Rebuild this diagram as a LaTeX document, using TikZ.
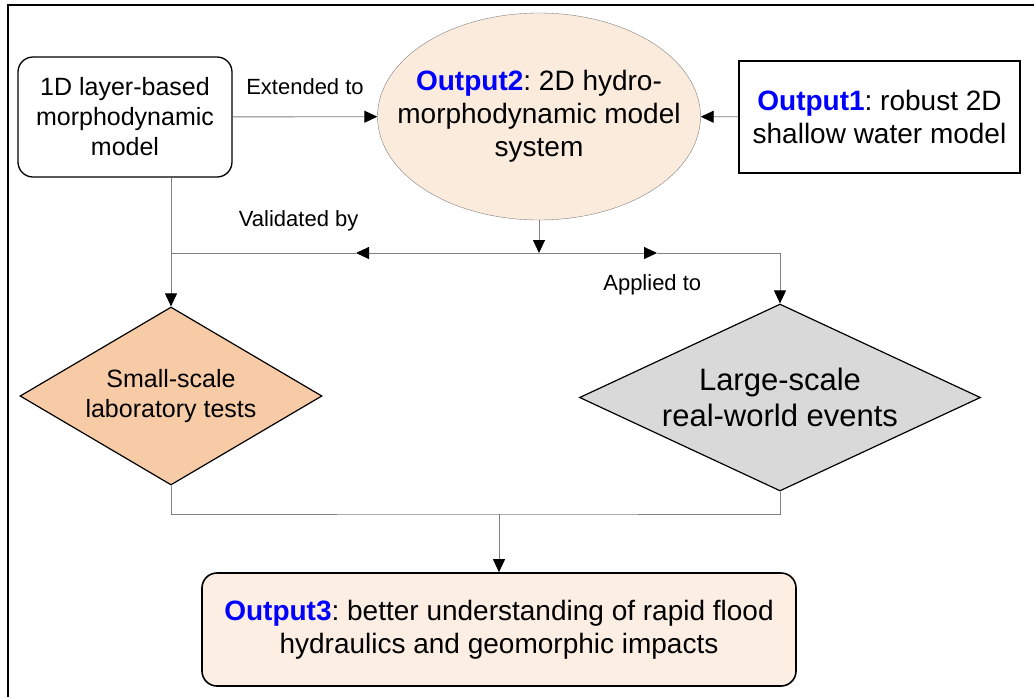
\documentclass[tikz,border=0pt]{standalone}
\usepackage{fontspec}
\setmainfont{Liberation Sans}
\usetikzlibrary{shapes.geometric,arrows.meta,positioning}
\frenchspacing

\definecolor{peach}{HTML}{FBEBDD}
\definecolor{lightpeach}{HTML}{FCEEE3}
\definecolor{orangefill}{HTML}{F8CBA7}
\definecolor{greyfill}{HTML}{D9D9D9}
\definecolor{wirecol}{HTML}{808080}
\newcommand{\outname}[1]{\textcolor{blue}{\textbf{#1}}}

\tikzset{
    modelbox/.style={draw, rounded corners=15pt, line width=1.3pt, align=center},
    plainbox/.style={draw, line width=1.5pt, align=center},
    testbox/.style={diamond, draw, line width=1.2pt, align=center, inner sep=0pt},
    wire/.style={draw=wirecol, line width=0.9pt},
    link/.style={wire, -{Triangle[length=13pt,width=12pt,color=black]}},
    tag/.style={font=\fontsize{22}{26}\selectfont},
}

\begin{document}
\begin{tikzpicture}[x=1pt,y=-1pt]
    \useasboundingbox (0,0) rectangle (1034,697);
    \draw[line width=2pt] (8,697) -- (8,5) -- (1034,5);

    \node[modelbox, minimum width=214, minimum height=120, font=\fontsize{25}{30}\selectfont] (layer) at (125,117) {1D layer-based\\morphodynamic\\model};
    \node[ellipse, draw=wirecol, fill=peach, inner sep=0pt, minimum width=323, minimum height=207,
        label={[align=center, font=\fontsize{28}{33}\selectfont]center:{\outname{Output2}: 2D hydro-\\morphodynamic model\\system}}] (sys) at (539,116.5) {};
    \node[plainbox, minimum width=281, minimum height=112, font=\fontsize{28}{33}\selectfont] (out1) at (879.5,117) {\outname{Output1}: robust 2D\\shallow water model};
    \node[testbox, fill=orangefill, aspect=1.7, minimum width=302, minimum height=178, font=\fontsize{25}{30}\selectfont] (small) at (171,396) {Small-scale\\laboratory tests};
    \node[testbox, fill=greyfill, aspect=2.14, minimum width=401, minimum height=187, font=\fontsize{31}{36}\selectfont] (large) at (780,397.5) {Large-scale\\real-world events};
    \node[modelbox, fill=lightpeach, line width=1.6pt, minimum width=594, minimum height=113, font=\fontsize{28}{33}\selectfont] (result) at (499,629.5) {\outname{Output3}: better understanding of rapid flood\\hydraulics and geomorphic impacts};

    \coordinate (split) at (539,253);
    \coordinate (lefttip) at (356,253);
    \coordinate (righttip) at (657,253);
    \coordinate (merge) at (499,514);

    \draw[link] (layer) -- node[tag, above=18pt] {Extended to} (sys);
    \draw[link] (out1) -- (sys);
    \draw[link] (sys) -- (split);
    \draw[link] (split) -- (lefttip);
    \draw[wire] (lefttip) -- node[tag, pos=0.31, above=18pt] {Validated by} (lefttip -| small.north);
    \draw[link] (split) -- node[tag, pos=0.96, below=18pt] {Applied to} (righttip);
    \draw[link] (righttip) -| (large.north);
    \draw[link] (layer.south -| small.north) -- (small.north);
    \draw[wire] (small) |- (merge) -| (large);
    \draw[link] (merge) -- (result);
\end{tikzpicture}
\end{document}
